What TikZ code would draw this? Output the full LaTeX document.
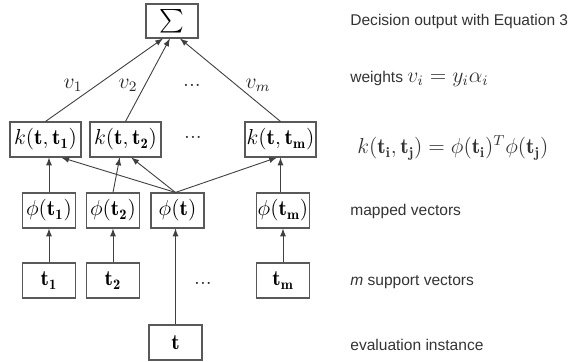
\documentclass[tikz,border=0pt]{standalone}
\usepackage{amsmath}
\usepackage{amssymb}
\usepackage{fontspec}
\newfontfamily\notefont{Liberation Sans}
\usetikzlibrary{arrows, calc}
\tikzset{
    sumbox/.style={draw, rectangle, minimum width=1.01cm, minimum height=0.66cm, inner sep=0pt, draw=black!65, line width=0.6pt, font=\fontsize{13}{15}\selectfont},
    kernelbox/.style={draw, rectangle, minimum width=1.38cm, minimum height=0.68cm, inner sep=0pt, draw=black!65, line width=0.6pt, font=\large},
    mapbox/.style={draw, rectangle, minimum width=1.03cm, minimum height=0.68cm, inner sep=0pt, draw=black!65, line width=0.6pt, font=\large},
    vecbox/.style={draw, rectangle, minimum width=1.03cm, minimum height=0.68cm, inner sep=0pt, draw=black!65, line width=0.6pt, font=\large},
    weight/.style={font=\large, text=black!85},
    gap/.style={font=\large, text=black!85},
    note/.style={anchor=west, inner sep=0pt, font=\fontsize{8.6}{10}\notefont, text=black!80},
    arrow/.style={->, >=latex, line width=0.5pt, draw=black!75}
}

\begin{document}
\begin{tikzpicture}[x=0.01944cm, y=-0.01944cm]

        \useasboundingbox (0,0) rectangle (569,362);

        % -----------------------------------------------------------------
        % NODI
        % -----------------------------------------------------------------
        \node[sumbox] (sum) at (172, 21) {$\sum$};

        \node[kernelbox] (k1) at (45.5, 139.5) {$k(\mathbf{t},\mathbf{t_1})$};
        \node[kernelbox] (k2) at (125.5, 139.5) {$k(\mathbf{t},\mathbf{t_2})$};
        \node[gap] (kdots) at (193, 137) {...};
        \node[kernelbox] (km) at (280.5, 139.5) {$k(\mathbf{t},\mathbf{t_m})$};

        \node[mapbox] (phi1) at (49, 210.5) {$\phi(\mathbf{t_1})$};
        \node[mapbox] (phi2) at (113, 210.5) {$\phi(\mathbf{t_2})$};
        \node[mapbox] (phit) at (177.5, 210.5) {$\phi(\mathbf{t})$};
        \node[mapbox] (phim) at (283, 210.5) {$\phi(\mathbf{t_m})$};

        \node[vecbox] (t1) at (49, 280.5) {$\mathbf{t_1}$};
        \node[vecbox] (t2) at (113, 280.5) {$\mathbf{t_2}$};
        \node[gap] (tdots) at (203, 283) {...};
        \node[vecbox] (tm) at (283, 280.5) {$\mathbf{t_m}$};

        \node[vecbox] (t) at (175.5, 342.5) {$\mathbf{t}$};

        % punto di partenza comune sopra phi(t)
        \coordinate (hub) at (phit.north -| t.north);

        % -----------------------------------------------------------------
        % PESI
        % -----------------------------------------------------------------
        \node[weight] (v1) at (73, 85) {$v_1$};
        \node[weight] (v2) at (128, 85) {$v_2$};
        \node[gap] (vdots) at (192, 85) {...};
        \node[weight] (vm) at (258, 85) {$v_m$};

        % -----------------------------------------------------------------
        % FRECCE
        % -----------------------------------------------------------------
        \draw[arrow] (k1.north) -- ($(sum.south west)!0.33!(sum.south east)$);
        \draw[arrow] (k2.north) -- ($(sum.south west)!0.46!(sum.south east)$);
        \draw[arrow] (km.north) -- ($(sum.south west)!0.65!(sum.south east)$);

        \draw[arrow] (phi1.north) -- (phi1.north |- k1.south);
        \draw[arrow] (hub) -- ($(k1.south west)!0.72!(k1.south east)$);
        \draw[arrow] (phi2.north) -- ($(k2.south west)!0.42!(k2.south east)$);
        \draw[arrow] (hub) -- ($(k2.south west)!0.58!(k2.south east)$);
        \draw[arrow] (hub) -- ($(km.south west)!0.45!(km.south east)$);
        \draw[arrow] (km.south |- phim.north) -- (km.south);

        \draw[arrow] (t1.north) -- (t1.north |- phi1.south);
        \draw[arrow] (t2.north) -- (t2.north |- phi2.south);
        \draw[arrow] (t.north) -- (t.north |- phit.south);
        \draw[arrow] (tm.north) -- (tm.north |- phim.south);

        % -----------------------------------------------------------------
        % DIDASCALIE
        % -----------------------------------------------------------------
        \node[note] (n1) at (350, 21) {Decision output with Equation 3};
        \node[note] (n2) at (350, 79) {weights {\large$v_i = y_i\alpha_i$}};
        \node[note, font=\large] (n3) at (357, 148) {$k(\mathbf{t_i},\mathbf{t_j}) = \phi(\mathbf{t_i})^T\phi(\mathbf{t_j})$};
        \node[note] (n4) at (350, 211) {mapped vectors};
        \node[note] (n5) at (350, 282) {\textit{m} support vectors};
        \node[note] (n6) at (350, 345) {evaluation instance};

    \end{tikzpicture}
\end{document}
